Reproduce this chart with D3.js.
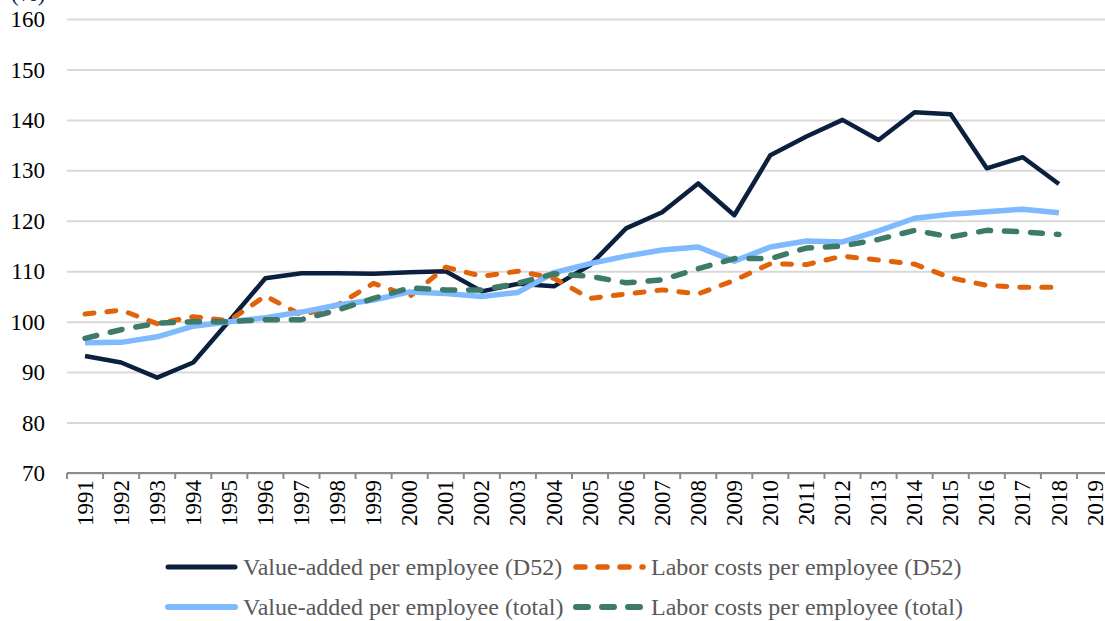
<!DOCTYPE html>
<html>
<head>
<meta charset="utf-8">
<script src="https://cdn.jsdelivr.net/npm/d3@7"></script>
<style>
  html, body { margin: 0; padding: 0; background: #fff; }
  svg { display: block; font-family: "Liberation Serif", "Times New Roman", serif; }
</style>
</head>
<body>
<div id="stage"></div>
<script>
(function(d3) {
    'use strict';

    // tick labels on the x axis
    var years = d3.range(1991, 2020).map(String);

    // series, 1991 - 2018
    var vaD52 = [93.2, 91.9, 88.9, 91.9, 100.2, 108.6, 109.6, 109.6, 109.5, 109.8,
        110.0, 106.0, 107.5, 107.0, 111.2, 118.5, 121.7, 127.4, 121.1, 133.0,
        136.7, 140.0, 136.0, 141.5, 141.1, 130.4, 132.6, 127.3];
    var lcD52 = [101.5, 102.3, 99.6, 101.0, 100.2, 105.1, 101.3, 103.3, 107.6, 105.0,
        110.8, 109.0, 110.0, 108.6, 104.6, 105.5, 106.3, 105.5, 108.2, 111.5,
        111.3, 113.0, 112.2, 111.4, 108.7, 107.2, 106.8, 106.8];
    var vaTotal = [95.8, 95.9, 97.0, 99.1, 100.0, 100.8, 101.9, 103.3, 104.3, 105.9,
        105.6, 105.0, 105.8, 109.7, 111.5, 113.0, 114.2, 114.8, 112.0, 114.8,
        116.0, 115.8, 118.0, 120.5, 121.3, 121.8, 122.3, 121.6];
    var lcTotal = [96.7, 98.4, 99.7, 100.0, 100.0, 100.4, 100.4, 102.3, 104.6, 106.7,
        106.3, 106.3, 107.6, 109.5, 109.0, 107.7, 108.3, 110.5, 112.5, 112.5,
        114.6, 115.0, 116.3, 118.1, 116.8, 118.1, 117.8, 117.3];

    var yTicks = [70, 80, 90, 100, 110, 120, 130, 140, 150, 160];

    var series = [
        { name: 'Value-added per employee (D52)', values: vaD52, color: '#0b1f3f', width: 4.5, dash: null },
        { name: 'Labor costs per employee (D52)', values: lcD52, color: '#e0620a', width: 5, dash: '9,13' },
        { name: 'Value-added per employee (total)', values: vaTotal, color: '#7fbaff', width: 5.5, dash: null },
        { name: 'Labor costs per employee (total)', values: lcTotal, color: '#3d7a69', width: 5.5, dash: '12,14' }
    ];

    var W = 1105, H = 621,
        left = 67, top = 19, bottom = 473,
        step = 36.07,
        serif = '"Liberation Serif", "Times New Roman", serif';

    var svg = d3.select('#stage')
        .append('svg')
        .attr('width', W)
        .attr('height', H);

    var x = d3.scaleBand()
        .domain(years)
        .range([left, left + step * years.length])
        .paddingInner(0)
        .paddingOuter(0);

    var y = d3.scaleLinear()
        .domain([70, 160])
        .range([bottom, top]);

    // grid + y labels
    var yAxis = svg.append('g')
        .attr('transform', 'translate(' + left + ',0)')
        .call(d3.axisLeft(y)
            .tickValues(yTicks)
            .tickSize(-(W - left))
            .tickPadding(22));
    yAxis.attr('font-family', serif);
    yAxis.select('.domain').remove();
    yAxis.selectAll('.tick line')
        .attr('stroke', '#d9d9d9')
        .attr('stroke-width', 2);
    yAxis.selectAll('.tick text')
        .attr('fill', '#000')
        .style('font-size', '23px')
        .attr('dy', '0.33em');

    // x axis
    var xAxis = svg.append('g')
        .attr('transform', 'translate(0,' + bottom + ')')
        .call(d3.axisBottom(x).tickSize(0).tickPadding(0));
    xAxis.attr('font-family', serif);
    xAxis.select('.domain').remove();
    xAxis.selectAll('.tick text')
        .attr('transform', 'rotate(-90)')
        .attr('x', -7)
        .attr('y', 0)
        .attr('dy', '0.33em')
        .attr('text-anchor', 'end')
        .attr('fill', '#000')
        .style('font-size', '23px');

    svg.append('line')
        .attr('x1', left).attr('x2', W)
        .attr('y1', bottom).attr('y2', bottom)
        .attr('stroke', '#8c8c8c')
        .attr('stroke-width', 2);

    svg.selectAll('.xtick')
        .data(years.concat(['end']))
        .enter()
        .append('line')
        .attr('class', 'xtick')
        .attr('x1', function(d) { return d === 'end' ? x.range()[1] : x(d); })
        .attr('x2', function(d) { return d === 'end' ? x.range()[1] : x(d); })
        .attr('y1', bottom)
        .attr('y2', bottom + 6)
        .attr('stroke', '#8c8c8c')
        .attr('stroke-width', 2);

    // lines
    var line = d3.line()
        .x(function(d, i) { return x(years[i]) + x.bandwidth() / 2; })
        .y(function(d) { return y(d); });

    svg.selectAll('.series')
        .data(series)
        .enter()
        .append('path')
        .attr('class', 'series')
        .attr('d', function(s) { return line(s.values); })
        .attr('fill', 'none')
        .attr('stroke', function(s) { return s.color; })
        .attr('stroke-width', function(s) { return s.width; })
        .attr('stroke-dasharray', function(s) { return s.dash; })
        .attr('stroke-linecap', function(s) { return s.dash ? 'round' : 'butt'; })
        .attr('stroke-linejoin', 'round');

    // legend
    var legendPos = [
        { x: 165, y: 567 }, { x: 573, y: 567 },
        { x: 165, y: 607 }, { x: 573, y: 607 }
    ];

    var items = svg.selectAll('.legend')
        .data(series)
        .enter()
        .append('g')
        .attr('class', 'legend')
        .attr('transform', function(s, i) {
            return 'translate(' + legendPos[i].x + ',' + legendPos[i].y + ')';
        });

    items.append('line')
        .attr('x1', 3).attr('x2', 70)
        .attr('y1', 0).attr('y2', 0)
        .attr('stroke', function(s) { return s.color; })
        .attr('stroke-width', function(s) { return s.width + 0.5; })
        .attr('stroke-dasharray', function(s) { return s.dash; })
        .attr('stroke-linecap', 'round');

    items.append('text')
        .attr('x', 78)
        .attr('y', 0)
        .attr('dy', '0.33em')
        .attr('fill', '#595959')
        .style('font-size', '24px')
        .text(function(s) { return s.name; });

    // axis title, cut off at the top edge as in the original
    svg.append('text')
        .attr('x', 11)
        .attr('y', 1)
        .attr('fill', '#0b1f3f')
        .style('font-size', '23px')
        .text('(%)');

})(window.d3);
</script>
</body>
</html>
